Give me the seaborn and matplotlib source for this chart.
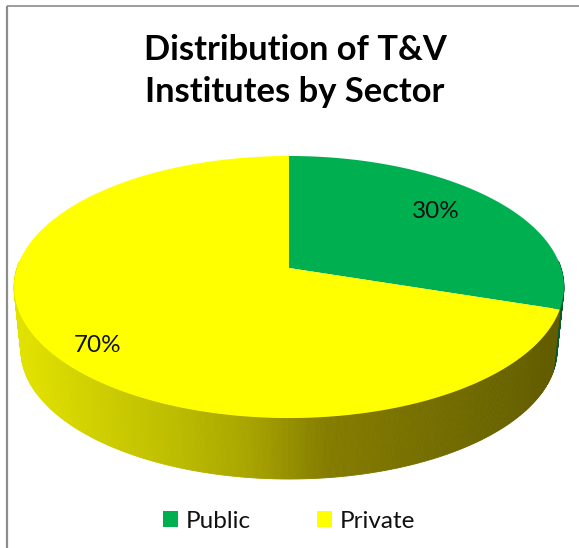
import numpy as np
import matplotlib
matplotlib.use("Agg")
import matplotlib.pyplot as plt
from matplotlib.patches import Polygon, Patch
import seaborn as sns

# data
sectors = ["Public", "Private"]
shares = [30, 70]
labels = ["30%", "70%"]
colors = ["#00B050", "#FFFF00"]
title = "Distribution of T&V\nInstitutes by Sector"

sns.set_theme(style="white")
plt.rcParams["font.family"] = ["Lato", "DejaVu Sans"]

W, H = 579, 548
fig = plt.figure(figsize=(W / 100, H / 100), dpi=100)
ax = fig.add_axes([0, 0, 1, 1])

wedges, _ = ax.pie(shares, colors=colors, startangle=90, counterclock=False)
thetas = [(w.theta1, w.theta2) for w in wedges]
for w in wedges:
    w.remove()
ax.set_aspect("auto")
ax.set_xlim(0, W)
ax.set_ylim(H, 0)
ax.axis("off")

CX, CY = 289.0, 268.0
B, C, D = -89.4, 0.145, 272.0


def top_xy(deg):
    a = np.radians(deg)
    u, v = np.cos(a), np.sin(a)
    d = 1 + C * v
    return CX + D * u / d, (CY + B * v) / d


def low_xy(deg):
    x, y = top_xy(deg)
    return CX + (x - CX) * 0.975, 350 + (y - 287) * 129 / 131


side_dark = sns.blend_palette(
    ["#E2E200", "#CFCF00", "#BDBD00", "#A8A400", "#857D00", "#7A7200", "#6E6800", "#625C00"], as_cmap=True)
green_side = "#0B5A2E"

# side wall, drawn as thin strips
for (t1, t2), col in zip(thetas, colors):
    angs = np.arange(t1, t2 + 0.5, 0.5)
    angs = np.r_[angs, t2]
    for a0, a1 in zip(angs[:-1], angs[1:]):
        if np.sin(np.radians(0.5 * (a0 + a1))) > 0.05:
            continue
        x0, y0 = top_xy(a0)
        x1, y1 = top_xy(a1)
        x2, y2 = low_xy(a1)
        x3, y3 = low_xy(a0)
        if col == colors[0]:
            fc = green_side
        else:
            fc = side_dark(np.clip((0.5 * (x0 + x1) - 18) / 540, 0, 1))
        ax.add_patch(Polygon([(x0, y0), (x1, y1), (x2, y2), (x3, y3)], closed=True,
                             facecolor=fc, edgecolor=fc, linewidth=0.6))

# top face
for (t1, t2), col in zip(thetas, colors):
    angs = np.linspace(t1, t2, 200)
    pts = [(CX, CY)] + [top_xy(a) for a in angs]
    ax.add_patch(Polygon(pts, closed=True, facecolor=col, edgecolor="none", zorder=3))

# value labels
ax.text(435.5, 211, labels[0], ha="center", va="center", fontsize=17.5, color="#111111", zorder=4)
ax.text(97.5, 345, labels[1], ha="center", va="center", fontsize=17.5, color="#111111", zorder=4)

# title
ax.text(295, 71, title, ha="center", va="center", fontsize=24.8, fontweight="bold",
        color="#000000", linespacing=1.42, zorder=4)

# frame
ax.plot([7, 7], [6, H], color="#8C8C8C", lw=1.6, solid_capstyle="butt")
ax.plot([7, W], [6, 6], color="#8C8C8C", lw=1.2, solid_capstyle="butt")

# legend
handles = [Patch(facecolor=c, edgecolor="none") for c in colors]
ax.legend(handles, sectors, ncol=2, loc="center", bbox_to_anchor=(289 / W, 1 - 521 / H),
          frameon=False, fontsize=17.5, handlelength=0.62, handleheight=0.62, handletextpad=0.3,
          columnspacing=2.75, borderpad=0, labelcolor="#111111")

fig.savefig("out.png", dpi=100, facecolor="white")
